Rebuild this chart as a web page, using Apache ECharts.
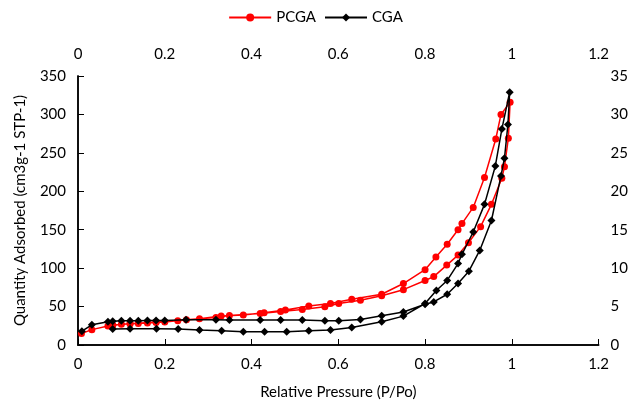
<!DOCTYPE html>
<html><head><meta charset="utf-8">
<script src="https://cdn.jsdelivr.net/npm/echarts@6/dist/echarts.min.js"></script>
<style>html,body{margin:0;padding:0;background:#fff}#c{width:631px;height:409px}</style>
</head><body><div id="c"></div>
<script>
// PCGA: relative pressure and quantity adsorbed (adsorption then desorption)
const pcgaP = [0.008,0.032,0.069,0.08,0.1,0.12,0.139,0.16,0.18,0.2,0.25,0.318,0.349,0.42,0.467,0.517,0.569,0.601,0.651,0.70,0.75,0.80,0.82,0.85,0.876,0.90,0.928,0.953,0.977,0.983,0.992,0.996,
  0.975,0.963,0.937,0.911,0.885,0.876,0.851,0.825,0.80,0.75,0.70,0.631,0.582,0.532,0.478,0.429,0.381,0.33,0.28,0.23,0.18,0.12,0.08];
const pcgaQ = [15,20,24.6,25.5,27,27.5,28,28.7,29.4,30,33,35.9,38.5,41,43.6,46.2,49.7,54,58.3,64,72,84,89,104,117,133,154,183,217,232,269,316,
  300,268,218,179,158,150,131,114.5,98,80,66,59.6,54,50.6,45.4,41.9,38.9,37.6,34,31.5,29.8,27.8,26];
// CGA
const cgaP = [0.009,0.032,0.069,0.08,0.1,0.12,0.139,0.16,0.18,0.2,0.249,0.318,0.349,0.42,0.467,0.517,0.569,0.601,0.651,0.70,0.75,0.80,0.82,0.851,0.876,0.901,0.926,0.953,0.975,0.983,0.991,0.995,
  0.977,0.962,0.937,0.911,0.885,0.876,0.851,0.826,0.80,0.75,0.70,0.631,0.582,0.532,0.481,0.43,0.381,0.331,0.28,0.231,0.181,0.12,0.08];
const cgaQ = [18,26.3,30.2,31,31.5,31.5,31.5,32,32,32,33,33,32.4,32.4,32.4,32.4,31.5,31.5,33.3,38,43,53,56,66,80,96,123,162,220,243,287,329,
  281,233,183,147,118,106,84,71,54,37.6,30.2,22.9,19.4,18.6,17.3,17.3,17.3,18.6,19.4,20.7,21,21,20.7];
const seriesNames = ['PCGA','CGA'];

const font = 'Lato, "Open Sans", sans-serif';
const zip = (a,b)=>a.map((v,i)=>[v,b[i]]);
const chart = echarts.init(document.getElementById('c'));
const axLine = {show:true, lineStyle:{color:'#000', width:1.5}};
const lbl = {color:'#000', fontSize:15, fontFamily:font};
chart.setOption({
  animation:false,
  legend:{top:5,left:'center',itemWidth:42,itemHeight:10,itemGap:8,
    textStyle:{color:'#000',fontSize:15,fontFamily:font},
    data:['PCGA','CGA']},
  grid:{left:78,right:30,top:76,bottom:64},
  xAxis:[
    {type:'value',position:'bottom',min:0,max:1.2,interval:0.2,axisLine:axLine,
     axisTick:{show:true,inside:true,length:6,lineStyle:{color:'#000',width:1}},
     axisLabel:Object.assign({margin:12},lbl),splitLine:{show:false},
     name:'Relative Pressure (P/Po)',nameLocation:'middle',nameGap:40,
     nameTextStyle:{color:'#000',fontSize:15,fontFamily:font}},
    {type:'value',position:'top',min:0,max:1.2,interval:0.2,axisLine:axLine,
     axisTick:{show:false},axisLabel:Object.assign({margin:14},lbl),splitLine:{show:false}}
  ],
  yAxis:[
    {type:'value',position:'left',min:0,max:350,interval:50,axisLine:axLine,
     axisTick:{show:true,inside:true,length:6,lineStyle:{color:'#000',width:1}},
     axisLabel:Object.assign({margin:12},lbl),splitLine:{show:false},
     name:'Quantity Adsorbed (cm3g-1 STP-1)',nameLocation:'middle',nameGap:50,
     nameTextStyle:{color:'#000',fontSize:15,fontFamily:font}},
    {type:'value',position:'right',min:0,max:35,interval:5,axisLine:axLine,
     axisTick:{show:false},axisLabel:Object.assign({margin:12},lbl),splitLine:{show:false}}
  ],
  series:[
    {name:seriesNames[0],type:'line',data:zip(pcgaP,pcgaQ),symbol:'circle',symbolSize:7,
     lineStyle:{color:'#ff0000',width:1.5},itemStyle:{color:'#ff0000'},z:2},
    {name:seriesNames[1],type:'line',data:zip(cgaP,cgaQ),symbol:'diamond',symbolSize:8,
     lineStyle:{color:'#000',width:1.5},itemStyle:{color:'#000'},z:3}
  ]
});
</script></body></html>
